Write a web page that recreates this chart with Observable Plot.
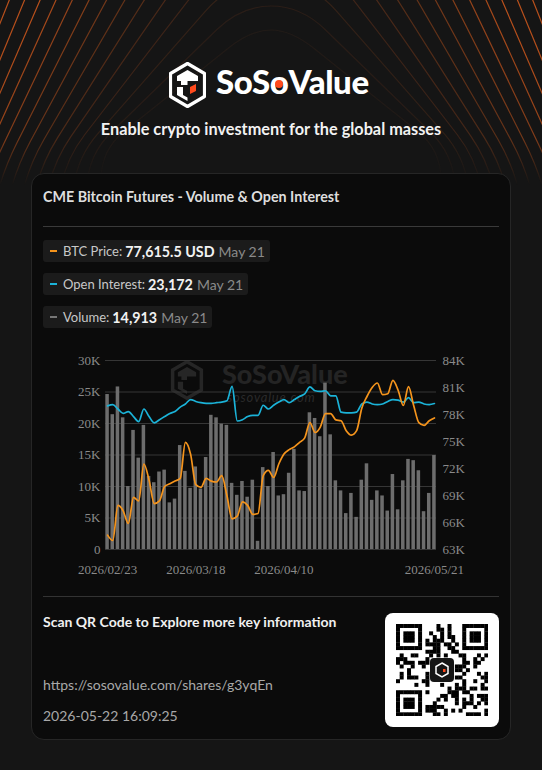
<!DOCTYPE html>
<html><head><meta charset="utf-8">
<script src="https://cdn.jsdelivr.net/npm/d3@7"></script>
<script src="https://cdn.jsdelivr.net/npm/@observablehq/plot@0.6"></script>
<style>
html,body{margin:0;padding:0;background:#151515;}
#page{position:relative;width:542px;height:770px;overflow:hidden;background:#151515;font-family:Lato,"Noto Sans",sans-serif;}
.abs{position:absolute;}
#card{left:31px;top:173px;width:478px;height:565px;background:#0b0b0b;border:1px solid #262626;border-radius:13px;}
.chip{position:absolute;left:43px;height:22px;background:#1b1b1b;border-radius:3px;display:flex;align-items:center;padding:0 5px 0 7px;white-space:nowrap;}
.dash{display:inline-block;width:7px;height:2px;margin-right:6px;}
.lab{font-size:13px;color:#c8c8c8;margin-right:3px;}
.val{font-size:14.3px;font-weight:bold;color:#f2f2f2;margin-right:4px;}
.dt{font-size:14px;color:#8a8a8a;}
</style></head>
<body><div id="page">
<svg id="bg" class="abs" style="left:0;top:0" width="542" height="185"></svg>
<svg class="abs" style="left:169px;top:62px" width="37" height="46" viewBox="0 0 37 46">
  <polygon points="18.5,1.5 35.5,11.5 35.5,34.5 18.5,44.5 1.5,34.5 1.5,11.5" fill="none" stroke="#fff" stroke-width="3.2" stroke-linejoin="round"/>
  <path d="M8 14 L18.5 8 L29 14 L29 19 L18.5 19 L18.5 23 L12 23 L12 19 L8 19 Z" fill="#fff"/>
  <path d="M8 25 L14 25 L14 33 L18.5 35.5 L18.5 39 L8 33 Z" fill="#fff"/>
  <path d="M21 25 L27 22 L27 29 L21 32 Z" fill="#ff4a1c"/>
</svg>
<div class="abs" style="left:216px;top:61px;font-size:33px;font-weight:900;color:#fff;letter-spacing:-0.4px;line-height:40px;">SoS<span style="position:relative;display:inline-block;">o<span style="position:absolute;left:50%;top:58%;width:8px;height:8px;margin:-4px 0 0 -4px;border-radius:50%;background:#ff4a1c;"></span></span>Value</div>
<div class="abs" style="left:0;width:542px;top:119px;text-align:center;font-size:16.3px;font-weight:bold;color:#f2f2f2;">Enable crypto investment for the global masses</div>

<div id="card" class="abs"></div>
<div class="abs" style="left:43px;top:188px;font-size:14.3px;font-weight:bold;color:#dedede;">CME Bitcoin Futures - Volume &amp; Open Interest</div>
<div class="abs" style="left:43px;top:226px;width:456px;height:1px;background:#3a3a3a;"></div>

<div class="chip" style="top:240px;"><span class="dash" style="background:#f5941c"></span><span class="lab">BTC Price:</span><span class="val" id="v1"></span><span class="dt">May 21</span></div>
<div class="chip" style="top:273px;"><span class="dash" style="background:#1bb3d8"></span><span class="lab">Open Interest:</span><span class="val" id="v2"></span><span class="dt">May 21</span></div>
<div class="chip" style="top:306px;"><span class="dash" style="background:#777"></span><span class="lab">Volume:</span><span class="val" id="v3"></span><span class="dt">May 21</span></div>

<svg class="abs" style="left:170px;top:360px" width="34" height="40" viewBox="0 0 37 46">
  <polygon points="18.5,2 35,11.5 35,34.5 18.5,44 2,34.5 2,11.5" fill="none" stroke="#262626" stroke-width="4"/>
  <path d="M8 14 L18.5 8 L29 14 L29 19 L18.5 19 L18.5 23 L12 23 L12 19 L8 19 Z" fill="#262626"/>
  <path d="M8 25 L14 25 L14 33 L18.5 35.5 L18.5 39 L8 33 Z" fill="#262626"/>
</svg>
<div class="abs" style="left:222px;top:360px;font-size:27px;font-weight:900;color:#242424;line-height:27px;">SoSoValue</div>
<div class="abs" style="left:227px;top:391px;font-size:13px;font-style:italic;color:#2a2a2a;letter-spacing:0.8px;line-height:13px;">sosovalue.com</div>

<div id="chart" class="abs" style="left:31px;top:340px;width:480px;height:240px;"></div>

<div class="abs" style="left:43px;top:596px;width:456px;height:1px;background:#333;"></div>
<div class="abs" style="left:43px;top:613px;font-size:14px;font-weight:bold;color:#f0f0f0;">Scan QR Code to Explore more key information</div>
<div class="abs" style="left:43px;top:676px;font-size:14px;color:#a8a8a8;">https://sosovalue.com/shares/g3yqEn</div>
<div class="abs" style="left:43px;top:707px;font-size:14px;color:#a8a8a8;">2026-05-22 16:09:25</div>
<div class="abs" style="left:385px;top:613px;width:114px;height:114px;background:#fff;border-radius:8px;"></div>
<svg id="qr" class="abs" style="left:396px;top:624px" width="92" height="92"></svg>
</div>
<script>
// ---- data ----
const dates = ["02/23","02/24","02/25","02/26","02/27",
 "03/02","03/03","03/04","03/05","03/06","03/09","03/10","03/11","03/12","03/13",
 "03/16","03/17","03/18","03/19","03/20","03/23","03/24","03/25","03/26","03/27","03/30","03/31",
 "04/01","04/02","04/03","04/06","04/07","04/08","04/09","04/10","04/13","04/14","04/15","04/16","04/17",
 "04/20","04/21","04/22","04/23","04/24","04/27","04/28","04/29","04/30",
 "05/01","05/04","05/05","05/06","05/07","05/08","05/11","05/12","05/13","05/14","05/15",
 "05/18","05/19","05/20","05/21"];
const volume = [24.6,21.4,25.8,20.9,10.0,18.9,14.5,19.7,11.6,10.6,12.3,12.6,7.4,8.0,16.5,12.4,
 9.7,13.1,9.6,14.6,21.3,20.9,19.9,19.7,10.5,8.6,10.8,8.3,11.0,1.3,13.0,10.0,
 15.4,8.5,8.7,12.1,15.9,9.3,9.2,21.7,20.8,17.9,26.4,18.2,10.9,9.3,5.7,8.9,
 5.1,11.0,13.6,7.8,9.3,8.5,6.1,11.9,6.3,10.9,14.3,14.1,12.5,6.0,8.9,14.913];
const openInterest = [22.8,23.0,22.3,21.6,21.9,21.1,20.3,22.3,21.1,20.1,20.6,21.1,21.6,21.9,22.6,23.1,
 23.8,23.5,23.3,23.2,23.2,23.3,23.4,23.6,25.9,20.4,20.6,21.1,21.3,21.3,22.9,22.3,
 22.9,23.4,23.8,23.3,23.8,24.3,24.7,25.8,25.2,25.1,25.2,24.4,24.4,21.8,21.7,21.7,
 21.8,23.1,23.4,23.1,23.0,23.1,23.5,23.8,23.7,23.4,24.1,23.3,23.4,23.1,23.0,23.172];
const btcPrice = [64.6,64.0,67.9,67.3,65.9,68.8,68.4,72.5,70.7,68.1,68.4,70.0,70.3,70.6,70.9,74.9,
 73.6,70.2,69.9,70.9,70.6,70.5,71.2,69.0,66.4,66.7,68.3,67.9,66.9,67.0,71.2,71.8,
 71.0,72.5,73.6,74.1,74.4,74.9,75.4,77.1,76.0,76.6,78.1,78.1,77.4,77.3,76.2,75.7,
 76.2,78.7,80.0,81.0,81.5,80.2,80.3,81.8,80.7,79.0,81.1,79.0,77.1,76.8,77.3,77.6155];
const leftTicks = [0,5,10,15,20,25,30];
const rightTicks = [63,66,69,72,75,78,81,84];
const xTickIndex = [0,17,34,63];
const year = "2026";

// legend values
document.getElementById("v1").textContent = d3.format(",.1f")(btcPrice[btcPrice.length-1]*1000) + " USD";
document.getElementById("v2").textContent = d3.format(",")(Math.round(openInterest[openInterest.length-1]*1000));
document.getElementById("v3").textContent = d3.format(",")(Math.round(volume[volume.length-1]*1000));

// ---- chart ----
const pMin = rightTicks[0], pMax = rightTicks[rightTicks.length-1];
const lMax = leftTicks[leftTicks.length-1];
const toY = p => (p - pMin) / (pMax - pMin) * lMax;
const rows = dates.map((d, i) => ({i, date: d, vol: volume[i], oi: openInterest[i], price: btcPrice[i]}));

const chart = Plot.plot({
  width: 480, height: 240,
  marginTop: 20, marginBottom: 31, marginLeft: 74, marginRight: 75,
  x: {type: "linear", domain: [-0.4, dates.length - 0.6]},
  y: {domain: [0, lMax]},
  style: {background: "transparent", fontFamily: "'Liberation Serif', serif", fontSize: "13px", color: "#8a8a8a", overflow: "visible"},
  marks: [
    Plot.ruleY(leftTicks, {stroke: "#363636", strokeWidth: 1}),
    Plot.rect(rows, {x1: d => d.i - 0.34, x2: d => d.i + 0.34, y1: d => 0, y2: "vol", fill: "#6d6d6d"}),
    Plot.line(rows, {x: "i", y: "oi", stroke: "#1bb3d8", strokeWidth: 1.7, curve: "monotone-x"}),
    Plot.line(rows, {x: "i", y: d => toY(d.price), stroke: "#f5941c", strokeWidth: 1.7, curve: "monotone-x"}),
    Plot.axisY(leftTicks, {anchor: "left", tickSize: 0, tickPadding: 5, label: null, tickFormat: d => d === 0 ? "0" : d + "K"}),
    Plot.axisY(rightTicks.map(toY), {anchor: "right", tickSize: 0, tickPadding: 6, label: null,
      tickFormat: y => Math.round(pMin + y / lMax * (pMax - pMin)) + "K"}),
    Plot.axisX(xTickIndex, {anchor: "bottom", tickSize: 0, tickPadding: 15, label: null, tickFormat: i => year + "/" + dates[i]})
  ]
});
document.getElementById("chart").appendChild(chart);

// ---- decorative background lines ----
(function(){
  const svg = d3.select("#bg");
  const defs = svg.append("defs");
  const g = defs.append("linearGradient").attr("id","fade").attr("x1",0).attr("y1",0).attr("x2",0).attr("y2",1);
  g.append("stop").attr("offset","0%").attr("stop-color","#fff").attr("stop-opacity",1);
  g.append("stop").attr("offset","75%").attr("stop-color","#fff").attr("stop-opacity",0.85);
  g.append("stop").attr("offset","100%").attr("stop-color","#fff").attr("stop-opacity",0);
  defs.append("mask").attr("id","m").append("rect").attr("width",542).attr("height",185).attr("fill","url(#fade)");
  const cx = 271;
  function rounded(pts, r){
    let d = "M" + pts[0][0] + "," + pts[0][1];
    for (let j = 1; j < pts.length - 1; j++){
      const [ax,ay] = pts[j-1], [px,py] = pts[j], [bx,by] = pts[j+1];
      const la = Math.hypot(px-ax,py-ay), lb = Math.hypot(bx-px,by-py);
      const ra = Math.min(r, la/2), rb = Math.min(r, lb/2);
      d += " L" + (px-(px-ax)/la*ra) + "," + (py-(py-ay)/la*ra);
      d += " Q" + px + "," + py + " " + (px+(bx-px)/lb*rb) + "," + (py+(by-py)/lb*rb);
    }
    const e = pts[pts.length-1];
    return d + " L" + e[0] + "," + e[1];
  }
  const col = d3.interpolateRgb("#33231a", "#c4541c");
  const grp = svg.append("g").attr("mask","url(#m)");
  for (let k = 0; k < 22; k++) {
    const T = 20 + 10*k, top = 30 - 24*k, W = 170 + 14*k, Y = 150 + 6*k;
    const pts = [[cx-W,320],[cx-W,Y],[cx-T,top],[cx+T,top],[cx+W,Y],[cx+W,320]];
    const t = Math.max(0, Math.min(1, k / 11));
    grp.append("path").attr("d", rounded(pts, 30 + 4*k))
      .attr("fill","none").attr("stroke", col(t)).attr("stroke-width",1.2)
      .attr("stroke-opacity", 0.45 + 0.5*t);
  }
})();

// ---- decorative QR ----
(function(){
  const svg = d3.select("#qr");
  const N = 25, s = 92 / N;
  const inFinder = (r,c) => (r<8&&c<8)||(r<8&&c>=N-8)||(r>=N-8&&c<8);
  function finderDark(r,c){
    let rr=r, cc=c;
    if (c>=N-8) cc=c-(N-7);
    if (r>=N-8) rr=r-(N-7);
    if (rr<0||cc<0||rr>6||cc>6) return false;
    if (rr===0||rr===6||cc===0||cc===6) return true;
    if (rr>=2&&rr<=4&&cc>=2&&cc<=4) return true;
    return false;
  }
  for (let r=0;r<N;r++) for (let c=0;c<N;c++){
    let dark;
    if (inFinder(r,c)) dark = finderDark(r,c);
    else dark = (((r*73 + c*151 + r*c*37) ^ (r*c + 11)) % 7) < 3;
    if (r>=9&&r<=15&&c>=9&&c<=15) dark=false;
    if (dark) svg.append("rect").attr("x",c*s).attr("y",r*s).attr("width",s+0.3).attr("height",s+0.3).attr("fill","#000");
  }
  svg.append("rect").attr("x",34).attr("y",34).attr("width",24).attr("height",24).attr("rx",4).attr("fill","#161616");
  svg.append("polygon").attr("points","46,39 52,42.5 52,49.5 46,53 40,49.5 40,42.5").attr("fill","none").attr("stroke","#fff").attr("stroke-width",1.5);
  svg.append("rect").attr("x",47).attr("y",45).attr("width",2.5).attr("height",3).attr("fill","#ff4a1c");
})();
</script>
</body></html>
